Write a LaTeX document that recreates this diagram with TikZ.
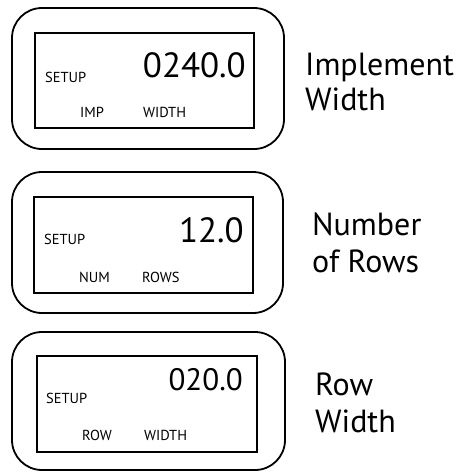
\documentclass[tikz,border=0pt]{standalone}
\usepackage{fontspec}
\setmainfont{PT Sans}
\begin{document}
\begin{tikzpicture}[x=1pt,y=-1pt,
  frame/.style={draw,line width=1.8pt,rounded corners=30pt},
  screen/.style={draw,line width=1.8pt},
  small/.style={inner sep=0pt,font=\fontsize{14.5}{17}\selectfont},
  big/.style={inner sep=0pt,font=\fontsize{35}{40}\selectfont},
  label/.style={inner sep=0pt,font=\fontsize{32}{38}\selectfont}]
\useasboundingbox (0,0) rectangle (458,472);
% panel 1
\draw[frame] (12,8) rectangle (284,149);
\draw[screen] (35,33) rectangle (254,128);
\node[small,anchor=base west] (s1) at (45,82) {SETUP};
\node[big,anchor=base east] (v1) at (246,77) {0240.0};
\node[small,anchor=base west] (a1) at (80,117) {IMP};
\node[small,anchor=base west] (b1) at (143,117) {WIDTH};
\node[label,anchor=base west] (l1a) at (305,75) {Implement};
\node[label,anchor=base west] (l1b) at (305,110) {Width};
% panel 2
\draw[frame] (12,172) rectangle (283,313);
\draw[screen] (34,197) rectangle (253,293);
\node[small,anchor=base west] (s2) at (44,244) {SETUP};
\node[big,anchor=base east] (v2) at (244,242) {12.0};
\node[small,anchor=base west] (a2) at (79,282) {NUM};
\node[small,anchor=base west] (b2) at (142,282) {ROWS};
\node[label,anchor=base west] (l2a) at (312,235) {Number};
\node[label,anchor=base west] (l2b) at (312,272) {of Rows};
% panel 3
\draw[frame] (12,332) rectangle (285,470);
\draw[screen] (37,356) rectangle (257,452);
\node[small,anchor=base west] (s3) at (46,403) {SETUP};
\node[big,anchor=base east,font=\fontsize{31}{36}\selectfont] (v3) at (243,390) {020.0};
\node[small,anchor=base west] (a3) at (82,440) {ROW};
\node[small,anchor=base west] (b3) at (144,440) {WIDTH};
\node[label,anchor=base west] (l3a) at (315,395) {Row};
\node[label,anchor=base west] (l3b) at (315,432) {Width};
\end{tikzpicture}
\end{document}
